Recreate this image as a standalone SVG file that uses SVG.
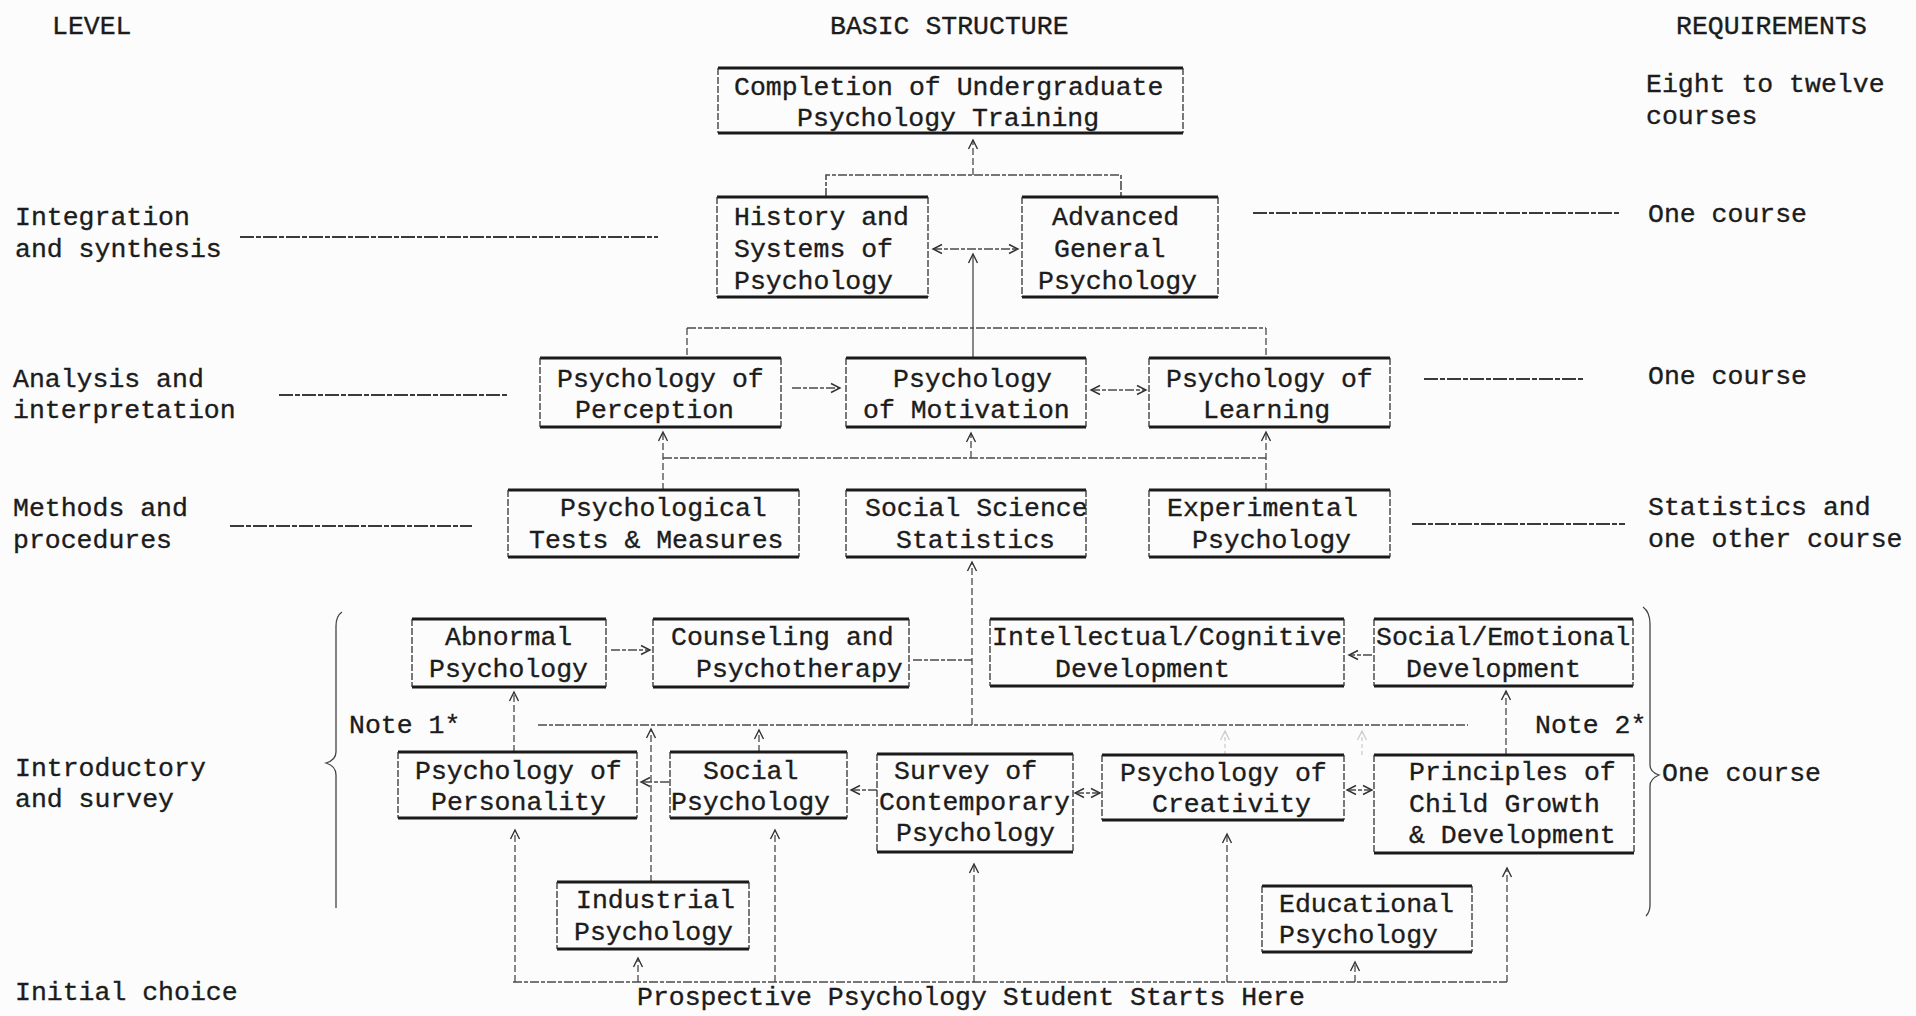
<svg xmlns="http://www.w3.org/2000/svg" width="1916" height="1016" viewBox="0 0 1916 1016">
<style>
  text { font-family: "Liberation Mono", "Courier New", monospace; font-size: 26.5px; fill: #1c1c1c; stroke: #1c1c1c; stroke-width: 0.35; }
  .tb { stroke: #1a1a1a; stroke-width: 3.2; fill: none; }
  .sd { stroke: #333; stroke-width: 1.3; stroke-dasharray: 7 2; fill: none; }
  .c { stroke: #4a4a4a; stroke-width: 1.6; stroke-dasharray: 9 2 4 2; fill: none; }
  .v { stroke: #4a4a4a; stroke-width: 1.3; stroke-dasharray: 7 3; fill: none; }
  .lead { stroke: #3a3a3a; stroke-width: 1.8; stroke-dasharray: 14 2 5 2; fill: none; }
  .faint { stroke: #999; stroke-width: 1.2; stroke-dasharray: 4 3; fill: none; opacity: 0.5; }
  .brace { stroke: #444; stroke-width: 1.3; fill: none; }
</style>
<defs>
  <marker id="ah" markerWidth="12" markerHeight="12" refX="10" refY="6" orient="auto-start-reverse" markerUnits="userSpaceOnUse">
    <path d="M1,1.5 L10,6 L1,10.5" fill="none" stroke="#333" stroke-width="1.4"/>
  </marker>
  <marker id="ahf" markerWidth="12" markerHeight="12" refX="10" refY="6" orient="auto-start-reverse" markerUnits="userSpaceOnUse">
    <path d="M1,1.5 L10,6 L1,10.5" fill="none" stroke="#999" stroke-width="1.2"/>
  </marker>
</defs>
<rect x="0" y="0" width="1916" height="1016" fill="#fcfcfc"/>

<!-- column headers and level labels -->
<g id="labels">
  <text x="52" y="34">LEVEL</text>
  <text x="830" y="34">BASIC STRUCTURE</text>
  <text x="1676" y="34">REQUIREMENTS</text>
  <text x="1646" y="92">Eight to twelve</text>
  <text x="1646" y="124">courses</text>
  <text x="15" y="225">Integration</text>
  <text x="15" y="257">and synthesis</text>
  <text x="1648" y="222">One course</text>
  <text x="13" y="387">Analysis and</text>
  <text x="13" y="418">interpretation</text>
  <text x="1648" y="384">One course</text>
  <text x="13" y="516">Methods and</text>
  <text x="13" y="548">procedures</text>
  <text x="1648" y="515">Statistics and</text>
  <text x="1648" y="547">one other course</text>
  <text x="15" y="776">Introductory</text>
  <text x="15" y="807">and survey</text>
  <text x="1662" y="781">One course</text>
  <text x="349" y="733">Note 1*</text>
  <text x="1535" y="733">Note 2*</text>
  <text x="15" y="1000">Initial choice</text>
  <text x="637" y="1005">Prospective Psychology Student Starts Here</text>
</g>

<!-- connectors -->
<g id="connectors">
  <!-- level lead lines -->
  <line class="lead" x1="240" y1="237" x2="658" y2="237"/>
  <line class="lead" x1="1253" y1="213" x2="1619" y2="213"/>
  <line class="lead" x1="279" y1="395" x2="507" y2="395"/>
  <line class="lead" x1="1424" y1="379" x2="1585" y2="379"/>
  <line class="lead" x1="230" y1="526" x2="472" y2="526"/>
  <line class="lead" x1="1412" y1="524" x2="1625" y2="524"/>

  <!-- top tree -->
  <polyline class="c" points="826,197 826,175 1121,175 1121,197"/>
  <line class="v" x1="973" y1="175" x2="973" y2="140" marker-end="url(#ah)"/>
  <line class="c" x1="933" y1="249" x2="1018" y2="249" marker-start="url(#ah)" marker-end="url(#ah)"/>
  <line class="v" x1="973" y1="358" x2="973" y2="254" marker-end="url(#ah)" style="stroke-dasharray:none"/>
  <line class="c" x1="687" y1="328" x2="1266" y2="328"/>
  <line class="v" x1="687" y1="328" x2="687" y2="358"/>
  <line class="v" x1="1266" y1="328" x2="1266" y2="358"/>

  <!-- analysis row -->
  <line class="c" x1="792" y1="388" x2="840" y2="388" marker-end="url(#ah)"/>
  <line class="c" x1="1091" y1="390" x2="1146" y2="390" marker-start="url(#ah)" marker-end="url(#ah)"/>

  <!-- methods to analysis -->
  <line class="c" x1="663" y1="458" x2="1266" y2="458"/>
  <line class="v" x1="663" y1="490" x2="663" y2="432" marker-end="url(#ah)"/>
  <line class="v" x1="1266" y1="490" x2="1266" y2="432" marker-end="url(#ah)"/>
  <line class="v" x1="971" y1="458" x2="971" y2="433" marker-end="url(#ah)"/>

  <!-- trunk from intro to statistics -->
  <line class="v" x1="972" y1="725" x2="972" y2="562" marker-end="url(#ah)"/>
  <line class="c" x1="913" y1="660" x2="972" y2="660"/>

  <!-- upper intro row -->
  <line class="c" x1="611" y1="650" x2="650" y2="650" marker-end="url(#ah)"/>
  <line class="c" x1="1372" y1="655" x2="1349" y2="655" marker-end="url(#ah)"/>

  <!-- note line -->
  <line class="c" x1="538" y1="725" x2="1468" y2="725"/>
  <line class="v" x1="514" y1="752" x2="514" y2="692" marker-end="url(#ah)"/>
  <line class="v" x1="651" y1="882" x2="651" y2="729" marker-end="url(#ah)"/>
  <line class="v" x1="759" y1="752" x2="759" y2="730" marker-end="url(#ah)"/>
  <line class="faint" x1="1225" y1="755" x2="1225" y2="731" marker-end="url(#ahf)"/>
  <line class="faint" x1="1362" y1="755" x2="1362" y2="731" marker-end="url(#ahf)"/>
  <line class="v" x1="1506" y1="755" x2="1506" y2="691" marker-end="url(#ah)"/>

  <!-- lower intro row -->
  <line class="c" x1="669" y1="782" x2="641" y2="782" marker-end="url(#ah)"/>
  <line class="c" x1="877" y1="790" x2="851" y2="790" marker-end="url(#ah)"/>
  <line class="c" x1="1075" y1="793" x2="1100" y2="793" marker-start="url(#ah)" marker-end="url(#ah)"/>
  <line class="c" x1="1347" y1="790" x2="1372" y2="790" marker-start="url(#ah)" marker-end="url(#ah)"/>

  <!-- starting line -->
  <line class="c" x1="513" y1="982" x2="1507" y2="982"/>
  <line class="v" x1="515" y1="982" x2="515" y2="830" marker-end="url(#ah)"/>
  <line class="v" x1="775" y1="982" x2="775" y2="830" marker-end="url(#ah)"/>
  <line class="v" x1="974" y1="982" x2="974" y2="864" marker-end="url(#ah)"/>
  <line class="v" x1="1227" y1="982" x2="1227" y2="834" marker-end="url(#ah)"/>
  <line class="v" x1="1507" y1="982" x2="1507" y2="868" marker-end="url(#ah)"/>
  <line class="v" x1="638" y1="982" x2="638" y2="958" marker-end="url(#ah)"/>
  <line class="v" x1="1355" y1="982" x2="1355" y2="962" marker-end="url(#ah)"/>

  <!-- braces -->
  <path class="brace" d="M342,612 Q336,616 336,626 L336,752 Q336,760 326,763 Q336,766 336,775 L336,908"/>
  <path class="brace" d="M1643,607 Q1650,612 1650,624 L1650,765 Q1650,772 1659,775 Q1650,779 1650,786 L1650,905 Q1650,912 1646,916"/>
</g>

<!-- nodes -->
<g id="n-completion">
  <line class="tb" x1="718" y1="68" x2="1183" y2="68"/><line class="tb" x1="718" y1="133" x2="1183" y2="133"/>
  <line class="sd" x1="718" y1="68" x2="718" y2="133"/><line class="sd" x1="1183" y1="68" x2="1183" y2="133"/>
  <text x="734" y="95">Completion of Undergraduate</text>
  <text x="797" y="126">Psychology Training</text>
</g>
<g id="n-history">
  <line class="tb" x1="717" y1="197" x2="928" y2="197"/><line class="tb" x1="717" y1="297" x2="928" y2="297"/>
  <line class="sd" x1="717" y1="197" x2="717" y2="297"/><line class="sd" x1="928" y1="197" x2="928" y2="297"/>
  <text x="734" y="225">History and</text>
  <text x="734" y="257">Systems of</text>
  <text x="734" y="289">Psychology</text>
</g>
<g id="n-advanced">
  <line class="tb" x1="1022" y1="197" x2="1218" y2="197"/><line class="tb" x1="1022" y1="297" x2="1218" y2="297"/>
  <line class="sd" x1="1022" y1="197" x2="1022" y2="297"/><line class="sd" x1="1218" y1="197" x2="1218" y2="297"/>
  <text x="1052" y="225">Advanced</text>
  <text x="1054" y="257">General</text>
  <text x="1038" y="289">Psychology</text>
</g>
<g id="n-perception">
  <line class="tb" x1="540" y1="358" x2="781" y2="358"/><line class="tb" x1="540" y1="427" x2="781" y2="427"/>
  <line class="sd" x1="540" y1="358" x2="540" y2="427"/><line class="sd" x1="781" y1="358" x2="781" y2="427"/>
  <text x="557" y="387">Psychology of</text>
  <text x="575" y="418">Perception</text>
</g>
<g id="n-motivation">
  <line class="tb" x1="846" y1="358" x2="1086" y2="358"/><line class="tb" x1="846" y1="427" x2="1086" y2="427"/>
  <line class="sd" x1="846" y1="358" x2="846" y2="427"/><line class="sd" x1="1086" y1="358" x2="1086" y2="427"/>
  <text x="893" y="387">Psychology</text>
  <text x="863" y="418">of Motivation</text>
</g>
<g id="n-learning">
  <line class="tb" x1="1149" y1="358" x2="1390" y2="358"/><line class="tb" x1="1149" y1="427" x2="1390" y2="427"/>
  <line class="sd" x1="1149" y1="358" x2="1149" y2="427"/><line class="sd" x1="1390" y1="358" x2="1390" y2="427"/>
  <text x="1166" y="387">Psychology of</text>
  <text x="1203" y="418">Learning</text>
</g>
<g id="n-tests">
  <line class="tb" x1="508" y1="490" x2="799" y2="490"/><line class="tb" x1="508" y1="557" x2="799" y2="557"/>
  <line class="sd" x1="508" y1="490" x2="508" y2="557"/><line class="sd" x1="799" y1="490" x2="799" y2="557"/>
  <text x="560" y="516">Psychological</text>
  <text x="529" y="548">Tests &amp; Measures</text>
</g>
<g id="n-statistics">
  <line class="tb" x1="846" y1="490" x2="1086" y2="490"/><line class="tb" x1="846" y1="557" x2="1086" y2="557"/>
  <line class="sd" x1="846" y1="490" x2="846" y2="557"/><line class="sd" x1="1086" y1="490" x2="1086" y2="557"/>
  <text x="865" y="516">Social Science</text>
  <text x="896" y="548">Statistics</text>
</g>
<g id="n-experimental">
  <line class="tb" x1="1149" y1="490" x2="1390" y2="490"/><line class="tb" x1="1149" y1="557" x2="1390" y2="557"/>
  <line class="sd" x1="1149" y1="490" x2="1149" y2="557"/><line class="sd" x1="1390" y1="490" x2="1390" y2="557"/>
  <text x="1167" y="516">Experimental</text>
  <text x="1192" y="548">Psychology</text>
</g>
<g id="n-abnormal">
  <line class="tb" x1="412" y1="619" x2="606" y2="619"/><line class="tb" x1="412" y1="687" x2="606" y2="687"/>
  <line class="sd" x1="412" y1="619" x2="412" y2="687"/><line class="sd" x1="606" y1="619" x2="606" y2="687"/>
  <text x="445" y="645">Abnormal</text>
  <text x="429" y="677">Psychology</text>
</g>
<g id="n-counseling">
  <line class="tb" x1="653" y1="619" x2="909" y2="619"/><line class="tb" x1="653" y1="687" x2="909" y2="687"/>
  <line class="sd" x1="653" y1="619" x2="653" y2="687"/><line class="sd" x1="909" y1="619" x2="909" y2="687"/>
  <text x="671" y="645">Counseling and</text>
  <text x="696" y="677">Psychotherapy</text>
</g>
<g id="n-intellectual">
  <line class="tb" x1="990" y1="619" x2="1344" y2="619"/><line class="tb" x1="990" y1="686" x2="1344" y2="686"/>
  <line class="sd" x1="990" y1="619" x2="990" y2="686"/><line class="sd" x1="1344" y1="619" x2="1344" y2="686"/>
  <text x="992" y="645">Intellectual/Cognitive</text>
  <text x="1055" y="677">Development</text>
</g>
<g id="n-socemo">
  <line class="tb" x1="1374" y1="619" x2="1633" y2="619"/><line class="tb" x1="1374" y1="686" x2="1633" y2="686"/>
  <line class="sd" x1="1374" y1="619" x2="1374" y2="686"/><line class="sd" x1="1633" y1="619" x2="1633" y2="686"/>
  <text x="1376" y="645">Social/Emotional</text>
  <text x="1406" y="677">Development</text>
</g>
<g id="n-personality">
  <line class="tb" x1="398" y1="752" x2="637" y2="752"/><line class="tb" x1="398" y1="818" x2="637" y2="818"/>
  <line class="sd" x1="398" y1="752" x2="398" y2="818"/><line class="sd" x1="637" y1="752" x2="637" y2="818"/>
  <text x="415" y="779">Psychology of</text>
  <text x="431" y="810">Personality</text>
</g>
<g id="n-social">
  <line class="tb" x1="670" y1="752" x2="847" y2="752"/><line class="tb" x1="670" y1="818" x2="847" y2="818"/>
  <line class="sd" x1="670" y1="752" x2="670" y2="818"/><line class="sd" x1="847" y1="752" x2="847" y2="818"/>
  <text x="703" y="779">Social</text>
  <text x="671" y="810">Psychology</text>
</g>
<g id="n-survey">
  <line class="tb" x1="877" y1="754" x2="1073" y2="754"/><line class="tb" x1="877" y1="852" x2="1073" y2="852"/>
  <line class="sd" x1="877" y1="754" x2="877" y2="852"/><line class="sd" x1="1073" y1="754" x2="1073" y2="852"/>
  <text x="894" y="779">Survey of</text>
  <text x="879" y="810">Contemporary</text>
  <text x="896" y="841">Psychology</text>
</g>
<g id="n-creativity">
  <line class="tb" x1="1102" y1="755" x2="1344" y2="755"/><line class="tb" x1="1102" y1="820" x2="1344" y2="820"/>
  <line class="sd" x1="1102" y1="755" x2="1102" y2="820"/><line class="sd" x1="1344" y1="755" x2="1344" y2="820"/>
  <text x="1120" y="781">Psychology of</text>
  <text x="1152" y="812">Creativity</text>
</g>
<g id="n-principles">
  <line class="tb" x1="1374" y1="755" x2="1634" y2="755"/><line class="tb" x1="1374" y1="853" x2="1634" y2="853"/>
  <line class="sd" x1="1374" y1="755" x2="1374" y2="853"/><line class="sd" x1="1634" y1="755" x2="1634" y2="853"/>
  <text x="1409" y="780">Principles of</text>
  <text x="1409" y="812">Child Growth</text>
  <text x="1409" y="843">&amp; Development</text>
</g>
<g id="n-industrial">
  <line class="tb" x1="557" y1="882" x2="749" y2="882"/><line class="tb" x1="557" y1="949" x2="749" y2="949"/>
  <line class="sd" x1="557" y1="882" x2="557" y2="949"/><line class="sd" x1="749" y1="882" x2="749" y2="949"/>
  <text x="576" y="908">Industrial</text>
  <text x="574" y="940">Psychology</text>
</g>
<g id="n-educational">
  <line class="tb" x1="1262" y1="886" x2="1472" y2="886"/><line class="tb" x1="1262" y1="952" x2="1472" y2="952"/>
  <line class="sd" x1="1262" y1="886" x2="1262" y2="952"/><line class="sd" x1="1472" y1="886" x2="1472" y2="952"/>
  <text x="1279" y="912">Educational</text>
  <text x="1279" y="943">Psychology</text>
</g>
</svg>
